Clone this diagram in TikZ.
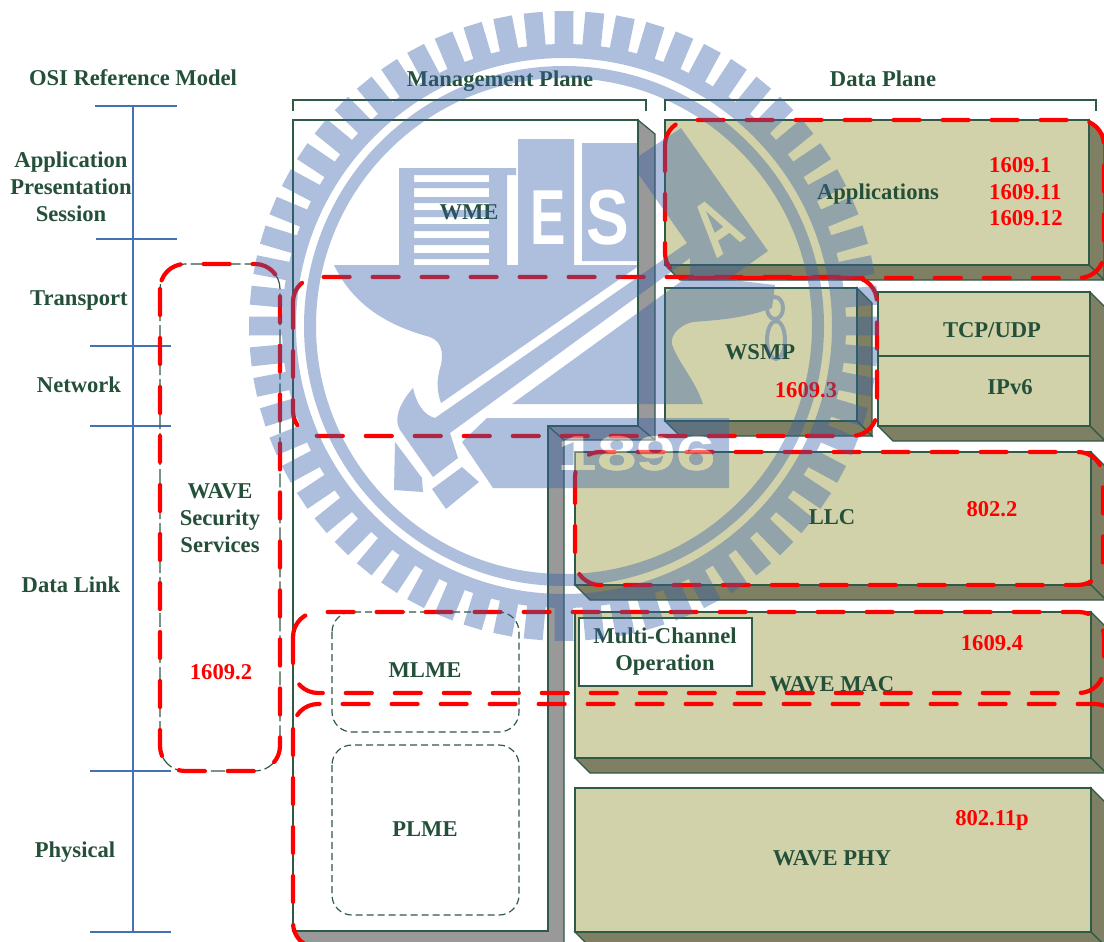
\documentclass[tikz,border=0pt]{standalone}
\usepackage{fontspec}
\setmainfont{Liberation Serif}
\newfontfamily\logofont{Liberation Sans}
\definecolor{planegreen}{HTML}{24503A}
\definecolor{edgegreen}{HTML}{2F5A46}
\definecolor{khaki}{HTML}{D2D2AA}
\definecolor{khakidark}{HTML}{7F7F63}
\definecolor{sidegrey}{HTML}{999999}
\definecolor{osiblue}{HTML}{4472B4}
\definecolor{redmark}{HTML}{FF0000}
\definecolor{logoblue}{HTML}{345FAA}
\tikzset{
  lbl/.style={font=\fontsize{22.6}{27}\selectfont\bfseries, text=planegreen, align=center, inner sep=0pt},
  redlbl/.style={font=\fontsize{22.6}{27}\selectfont\bfseries, text=redmark, inner sep=0pt},
  osiline/.style={draw=osiblue, line width=2.2pt},
  frontface/.style={draw=edgegreen, line width=1.2pt, fill=khaki},
  sideface/.style={draw=edgegreen, line width=1.2pt, fill=khakidark},
  bracketline/.style={draw=edgegreen, line width=1.2pt},
  thindash/.style={draw=edgegreen, line width=1.2pt, dash pattern=on 7pt off 4pt, rounded corners=20pt},
  reddash/.style={draw=redmark, line width=4.2pt, line cap=round, dash pattern=on 26pt off 23pt, rounded corners=25pt},
  logoletter/.style={font=\fontsize{78}{78}\selectfont\logofont\bfseries, inner sep=0pt}
}
\begin{document}
\begin{tikzpicture}[x=1pt,y=-1pt]
\useasboundingbox (0,0) rectangle (1104,942);
% OSI column
\draw[osiline] (133,106) -- (133,932);
\draw[osiline] (95,106) -- (177,106);
\draw[osiline] (96,239) -- (177,239);
\draw[osiline] (90,346) -- (171,346);
\draw[osiline] (90,426) -- (171,426);
\draw[osiline] (90,771) -- (171,771);
\draw[osiline] (90,932) -- (171,932);
\node[lbl] (osititle) at (133,78) {OSI Reference Model};
\node[lbl] (upperlayers) at (71,187) {Application\\Presentation\\Session};
\node[lbl] (transport) at (79,301) {Transport};
\node[lbl] (network) at (79,385) {Network};
\node[lbl] (datalink) at (71,585) {Data Link};
\node[lbl] (physical) at (75,852) {Physical};
% plane brackets
\node[lbl] (mgmttitle) at (500,81) {Management Plane};
\node[lbl] (datatitle) at (883,79) {Data Plane};
\draw[bracketline] (293,111) -- (293,100) -- (646,100) -- (646,111);
\draw[bracketline] (665,111) -- (665,100) -- (1096,100) -- (1096,111);
% management plane
\draw[draw=edgegreen, line width=1.2pt, fill=sidegrey] (638,120) -- (655,134) -- (655,440) -- (564,440) -- (564,950) -- (310,950) -- (293,931) -- (548,931) -- (548,426) -- (638,426) -- cycle;
\draw[draw=edgegreen, line width=1.2pt, fill=white] (293,120) -- (638,120) -- (638,426) -- (548,426) -- (548,931) -- (293,931) -- cycle;
\draw[draw=edgegreen, line width=1.2pt] (548,426) -- (564,440) (638,426) -- (655,440);
\draw[thindash] (332,612) rectangle (519,732);
\draw[thindash] (332,745) rectangle (519,915);
\node[lbl] (wme) at (469,212) {WME};
\node[lbl] (mlme) at (425,670) {MLME};
\node[lbl] (plme) at (425,829) {PLME};
% data plane boxes
\foreach \xa/\ya/\xb/\yb in {665/120/1089/265, 665/288/857/421, 878/292/1090/426, 575/452/1091/585, 575/612/1091/758, 575/788/1091/932}{
  \draw[sideface] (\xb,\ya) -- (\xb+15,\ya+15) -- (\xb+15,\yb+15) -- (\xb,\yb) -- cycle;
  \draw[sideface] (\xa,\yb) -- (\xb,\yb) -- (\xb+15,\yb+15) -- (\xa+15,\yb+15) -- cycle;
  \draw[frontface] (\xa,\ya) rectangle (\xb,\yb);
}
\draw[draw=edgegreen, line width=1.2pt] (878,356) -- (1090,356);
\draw[draw=edgegreen, line width=1.2pt, fill=white] (579,618) rectangle (752,686);
\node[lbl] (applications) at (878,194) {Applications};
\node[redlbl, anchor=west] (std11) at (989,165) {1609.1};
\node[redlbl, anchor=west] (std111) at (989,192) {1609.11};
\node[redlbl, anchor=west] (std112) at (989,218) {1609.12};
\node[lbl] (wsmp) at (760,352) {WSMP};
\node[redlbl] (std13) at (806,390) {1609.3};
\node[lbl] (tcpudp) at (992,330) {TCP/UDP};
\node[lbl] (ipv6) at (1010,387) {IPv6};
\node[lbl] (llc) at (832,517) {LLC};
\node[redlbl] (std8022) at (992,509) {802.2};
\node[lbl] (multichannel) at (665,652) {Multi-Channel\\Operation};
\node[lbl] (wavemac) at (832,684) {WAVE MAC};
\node[redlbl] (std14) at (992,643) {1609.4};
\node[lbl] (wavephy) at (832,858) {WAVE PHY};
\node[redlbl] (std80211p) at (992,820) {802.11p};
% security services
\draw[draw=edgegreen, line width=1.2pt, dash pattern=on 14pt off 4pt, rounded corners=25pt] (160,264) rectangle (280,771);
\node[lbl] (security) at (220,518) {WAVE\\Security\\Services};
\node[redlbl] (std12) at (221,672) {1609.2};
% red groupings
\draw[reddash] (160,264) rectangle (280,771);
\draw[reddash] (665,120) rectangle (1104,278);
\draw[reddash] (293,277) rectangle (877,436);
\draw[reddash] (575,452) rectangle (1103,585);
\draw[reddash] (293,612) rectangle (1104,693);
\draw[reddash] (293,704) rectangle (1120,948);
% seal on top of everything
\begin{scope}[opacity=.4,transparency group]
\begin{scope}[shift={(564,326)}]
\fill[logoblue,even odd rule] (0,0) circle (282) (0,0) circle (268);
\fill[logoblue,even odd rule] (0,0) circle (260) (0,0) circle (248);
\foreach \a in {0,1,...,63}{
  \fill[logoblue] (90+\a*5.625-1.9:280) -- (90+\a*5.625-1.73:315) -- (90+\a*5.625+1.73:315) -- (90+\a*5.625+1.9:280) -- cycle;
}
\end{scope}
% building
\fill[logoblue] (399,168) rectangle (414,266);
\fill[logoblue] (399,168) rectangle (516,175);
\fill[logoblue] (489,175) rectangle (507,266);
\foreach \ya/\yb in {182/188,197/203,210/217,224/231,238/245,253/259}{
  \fill[logoblue] (414,\ya) rectangle (489,\yb);
}
\fill[logoblue] (518,139) rectangle (574,266);
\fill[logoblue] (582,143) rectangle (638,261);
\node[logoletter, text=white, xscale=.68] (logoe) at (548,218) {E};
\node[logoletter, text=white, xscale=.82] (logos) at (608,218) {S};
% anvil
\fill[logoblue] (334,265) .. controls (352,303) and (385,325) .. (430,337) .. controls (443,342) and (443,355) .. (441,365) .. controls (436,380) and (437,392) .. (441,403) -- (640,265) -- cycle;
\fill[logoblue] (512,404) -- (690,275) -- (775,285) -- (772,308) .. controls (745,318) and (720,320) .. (693,322) .. controls (678,325) and (668,338) .. (673,347) .. controls (680,365) and (695,380) .. (703,404) -- cycle;
\draw[logoblue, line width=4pt] (775,308) ellipse (8 and 11);
\draw[logoblue, line width=4pt] (776,340) ellipse (9 and 19);
% hammer
\fill[logoblue] (413,388) .. controls (398,405) and (394,420) .. (400,430) -- (433,477) -- (458,458) -- (450,433) -- (690,258) -- (690,275) -- (720,285) -- (768,251) -- (681,128) -- (630,162) -- (687,243) -- (435,418) .. controls (423,415) and (416,402) .. (413,388) -- cycle;
\fill[logoblue] (432,489) -- (462,467) -- (479,482) -- (446,509) -- cycle;
\fill[logoblue] (395,442) -- (422,478) -- (423,492) -- (394,490) -- cycle;
\node[logoletter, text=khaki, rotate=35, xscale=.68] (logoa) at (717,227) {A};
% base
\fill[logoblue] (487,418) -- (729,418) -- (729,488) -- (493,488) -- (462,442) -- cycle;
\node[font=\fontsize{49}{49}\selectfont\logofont\bfseries, text=white, inner sep=0pt, xscale=1.45] (logoyear) at (637,454) {1896};
\begin{scope}
\clip (575,452) rectangle (1091,585);
\node[font=\fontsize{49}{49}\selectfont\logofont\bfseries, text=khaki, inner sep=0pt, xscale=1.45] (logoyearb) at (637,454) {1896};
\end{scope}
\end{scope}
\end{tikzpicture}
\end{document}
